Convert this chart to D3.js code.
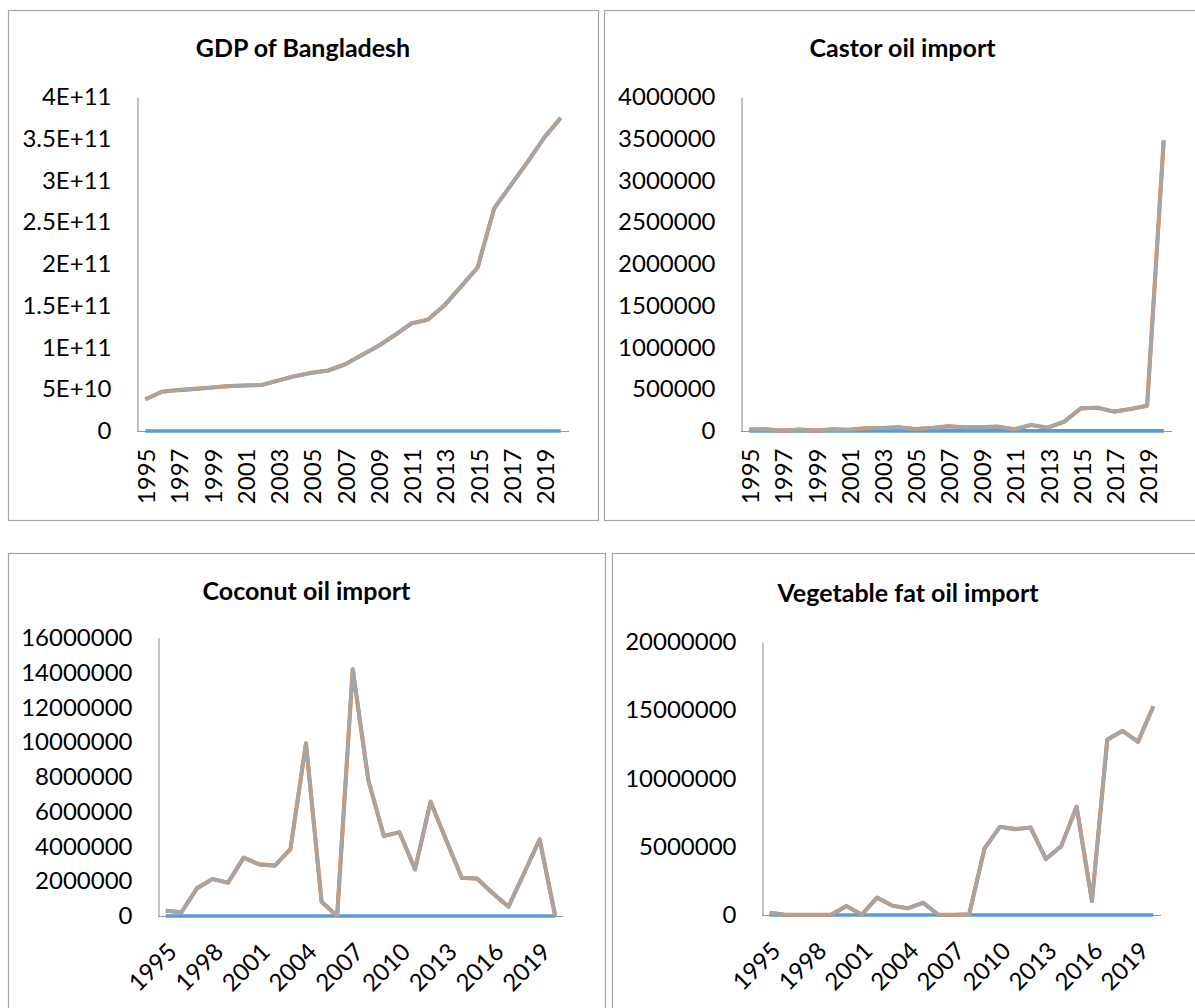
<!DOCTYPE html>
<html>
<head>
<meta charset="utf-8">
<script src="https://cdn.jsdelivr.net/npm/d3@7"></script>
<style>
  html, body { margin: 0; padding: 0; background: #fff; }
  svg { display: block; }
  text { font-family: Lato, "Open Sans", "Liberation Sans", sans-serif; fill: #000; }
</style>
</head>
<body>
<script>
// ---------- DATA ----------
const years = [1995,1996,1997,1998,1999,2000,2001,2002,2003,2004,2005,2006,2007,2008,2009,2010,2011,2012,2013,2014,2015,2016,2017,2018,2019,2020];

const gdpValues = [3.78e10,4.70e10,4.90e10,5.05e10,5.20e10,5.37e10,5.45e10,5.50e10,6.05e10,6.57e10,6.97e10,7.24e10,7.96e10,9.07e10,1.015e11,1.146e11,1.286e11,1.333e11,1.504e11,1.73e11,1.958e11,2.667e11,2.945e11,3.22e11,3.51e11,3.75e11];
const castorValues = [16000,20000,5000,16000,5000,20000,15000,32000,36000,44000,24000,36000,56000,44000,44000,52000,20000,72000,40000,112000,271000,279000,232000,263000,303000,3480000];
const coconutValues = [307000,211000,1590000,2130000,1920000,3360000,2970000,2900000,3840000,9940000,825000,0,14200000,7830000,4600000,4820000,2690000,6580000,4370000,2200000,2150000,1300000,537000,2460000,4410000,0];
const vegFatValues = [170000,20000,10000,10000,10000,660000,20000,1270000,680000,490000,900000,10000,10000,50000,4880000,6460000,6290000,6410000,4100000,5050000,7930000,1020000,12850000,13490000,12680000,15290000];

const titles = ["GDP of Bangladesh","Castor oil import","Coconut oil import","Vegetable fat oil import"];

const gdpTicks = [0,5e10,1e11,1.5e11,2e11,2.5e11,3e11,3.5e11,4e11];
const gdpTickLabels = ["0","5E+10","1E+11","1.5E+11","2E+11","2.5E+11","3E+11","3.5E+11","4E+11"];
const castorTicks = [0,500000,1000000,1500000,2000000,2500000,3000000,3500000,4000000];
const castorTickLabels = ["0","500000","1000000","1500000","2000000","2500000","3000000","3500000","4000000"];
const coconutTicks = [0,2000000,4000000,6000000,8000000,10000000,12000000,14000000,16000000];
const coconutTickLabels = ["0","2000000","4000000","6000000","8000000","10000000","12000000","14000000","16000000"];
const vegFatTicks = [0,5000000,10000000,15000000,20000000];
const vegFatTickLabels = ["0","5000000","10000000","15000000","20000000"];

const xLabelsEvery2 = [1995,1997,1999,2001,2003,2005,2007,2009,2011,2013,2015,2017,2019];
const xLabelsEvery3 = [1995,1998,2001,2004,2007,2010,2013,2016,2019];

// ---------- LAYOUT ----------
const panels = [
  { title: titles[0], values: gdpValues, ticks: gdpTicks, tickLabels: gdpTickLabels, xLabels: xLabelsEvery2, rot: -90,
    box: [8, 10, 590, 510], titleY: 47, left: 137, right: 569, top: 97, bottom: 431 },
  { title: titles[1], values: castorValues, ticks: castorTicks, tickLabels: castorTickLabels, xLabels: xLabelsEvery2, rot: -90,
    box: [604, 10, 597, 510], titleY: 47, left: 741, right: 1172, top: 97, bottom: 431 },
  { title: titles[2], values: coconutValues, ticks: coconutTicks, tickLabels: coconutTickLabels, xLabels: xLabelsEvery3, rot: -45,
    box: [8, 553, 597, 470], titleY: 590, left: 158, right: 563, top: 638, bottom: 916 },
  { title: titles[3], values: vegFatValues, ticks: vegFatTicks, tickLabels: vegFatTickLabels, xLabels: xLabelsEvery3, rot: -45,
    box: [612, 553, 592, 470], titleY: 592, left: 762, right: 1161, top: 642, bottom: 915 }
];

const TICK_FONT = "24px";
const TITLE_FONT = "25px";

const svg = d3.select("body").append("svg").attr("width", 1195).attr("height", 1008);

panels.forEach(p => {
  const g = svg.append("g");
  g.append("rect")
    .attr("x", p.box[0] + 0.5).attr("y", p.box[1] + 0.5)
    .attr("width", p.box[2]).attr("height", p.box[3])
    .attr("fill", "#fff").attr("stroke", "#a6a6a6").attr("stroke-width", 1.2);

  g.append("text")
    .attr("x", p.box[0] + p.box[2] / 2).attr("y", p.titleY)
    .attr("text-anchor", "middle").attr("dominant-baseline", "central")
    .style("font-weight", "bold").style("font-size", TITLE_FONT)
    .text(p.title);

  const x = d3.scalePoint().domain(years).range([p.left, p.right]).padding(0.5);
  const y = d3.scaleLinear().domain([0, d3.max(p.ticks)]).range([p.bottom, p.top]);

  // Y axis
  const ya = g.append("g").attr("transform", `translate(${p.left + 0.5},0)`)
    .call(d3.axisLeft(y).tickValues(p.ticks).tickFormat((d, i) => p.tickLabels[i]).tickSize(0).tickSizeOuter(0).tickPadding(26));
  ya.select(".domain").attr("stroke", "#999999").attr("stroke-width", 1.2);
  ya.selectAll("text").style("font-size", TICK_FONT).style("font-family", "Lato, 'Open Sans', sans-serif").attr("fill", "#000");

  // X axis
  const xa = g.append("g").attr("transform", `translate(0,${p.bottom + 0.5})`)
    .call(d3.axisBottom(x).tickValues(p.xLabels).tickSize(0).tickSizeOuter(0));
  xa.select(".domain").attr("stroke", "#999999").attr("stroke-width", 1.2)
    .attr("d", `M${p.left},0H${p.right}`);
  const xt = xa.selectAll("text").style("font-size", TICK_FONT).style("font-family", "Lato, 'Open Sans', sans-serif")
    .attr("fill", "#000").attr("text-anchor", "end");
  if (p.rot === -90) {
    xt.attr("x", 0).attr("y", 0).attr("dy", "0.35em")
      .attr("transform", "translate(1,17) rotate(-90)");
  } else {
    xt.attr("x", 0).attr("y", 0).attr("dy", "0.35em")
      .attr("transform", "translate(6,31) rotate(-45)");
  }

  const line = d3.line().x((d, i) => x(years[i])).y(d => y(d));

  // Series 1: Year (blue, ~0 on these scales)
  g.append("path").datum(years)
    .attr("d", line).attr("fill", "none").attr("stroke", "#5b9bd5").attr("stroke-width", 3.6);
  // Series 2: value (orange, underneath)
  g.append("path").datum(p.values)
    .attr("d", line).attr("fill", "none").attr("stroke", "#ed7d31").attr("stroke-width", 4.1)
    .attr("stroke-linejoin", "round");
  // Series 3: value (gray, on top)
  g.append("path").datum(p.values)
    .attr("d", line).attr("fill", "none").attr("stroke", "#a5a5a5").attr("stroke-width", 3.7)
    .attr("stroke-linejoin", "round");
});
</script>
</body>
</html>
